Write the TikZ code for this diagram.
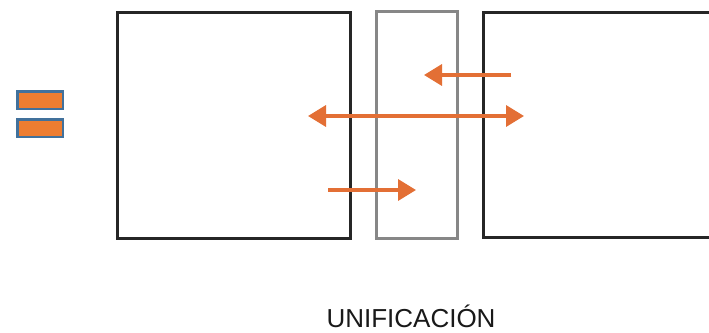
\documentclass[tikz,border=0pt]{standalone}
\usepackage{fontspec}
\setmainfont{Liberation Sans}
\usetikzlibrary{arrows.meta}
\definecolor{arr}{HTML}{E36F35}
\definecolor{icofill}{HTML}{ED7D31}
\definecolor{icoline}{HTML}{41719C}
\definecolor{midgray}{HTML}{878787}
\tikzset{
  panel/.style={draw=black!85, line width=3pt, inner sep=0pt, outer sep=0pt},
  midpanel/.style={draw=midgray, line width=3pt, inner sep=0pt, outer sep=0pt},
  icorect/.style={draw=icoline, fill=icofill, line width=2.5pt, minimum width=45.5pt, minimum height=17.5pt, inner sep=0pt},
  flow/.style={draw=arr, line width=3.5pt, -{Triangle[length=18pt,width=21pt]}},
  flowboth/.style={draw=arr, line width=3.5pt, {Triangle[length=18pt,width=21pt]}-{Triangle[length=18pt,width=21pt]}}
}
\begin{document}
\begin{tikzpicture}[x=1pt,y=-1pt]
\useasboundingbox (0,0) rectangle (709,332);
\fill[white] (0,0) rectangle (709,332);
% icon
\node[icorect] (i1) at (40,100) {};
\node[icorect] (i2) at (40,128) {};
% panels
\node[panel, minimum width=233pt, minimum height=226pt] (L) at (233.5,125) {};
\node[midpanel, minimum width=81pt, minimum height=227pt] (M) at (416.5,124.5) {};
\begin{scope}
\clip (0,0) rectangle (709,332);
\node[panel, minimum width=260pt, minimum height=225pt, anchor=west] (R) at (483,124.5) {};
\end{scope}
% arrow end points
\coordinate (a1s) at (511,75);
\coordinate (a1e) at (424,75);
\coordinate (a2s) at (308,116);
\coordinate (a2e) at (524,116);
\coordinate (a3s) at (328,190);
\coordinate (a3e) at (416,190);
\draw[flow] (a1s) -- (a1e);
\draw[flowboth] (a2s) -- (a2e);
\draw[flow] (a3s) -- (a3e);
% label
\node[anchor=base, font=\fontsize{26}{31}\selectfont, text=black!90, inner sep=0pt] (t) at (411,327) {UNIFICACIÓN};
\end{tikzpicture}
\end{document}
